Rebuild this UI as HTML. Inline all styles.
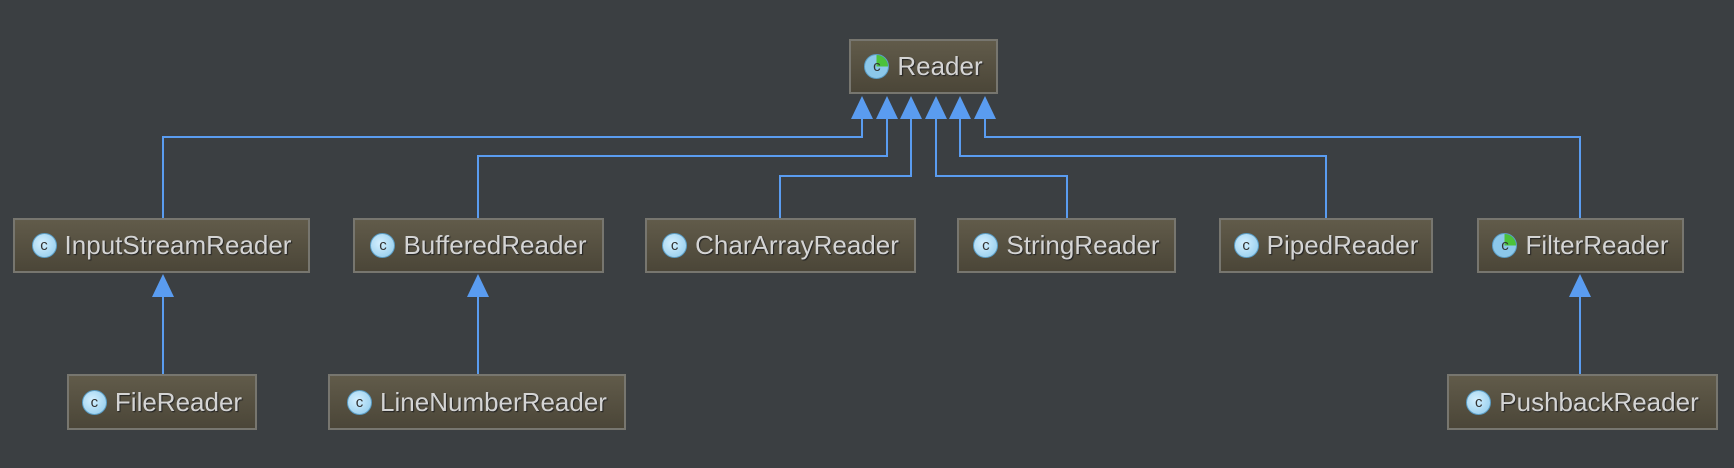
<!DOCTYPE html>
<html><head><style>
html,body{margin:0;padding:0;background:#3b3f42;width:1734px;height:468px;overflow:hidden}
.b{position:absolute;box-sizing:border-box;border:2px solid #77766f;background:linear-gradient(#615b4a,#4b4638);color:#d4d4d4;font-family:"Liberation Sans",sans-serif;font-size:26px;display:flex;align-items:center;justify-content:center;text-shadow:1px 1px 1px #222;white-space:nowrap}
.i{width:25px;height:25px;border-radius:50%;background:radial-gradient(circle at 40% 40%,#d4f0ff,#8cc8ea);border:1px solid #5a9cc4;color:#333;font-size:15px;display:inline-flex;align-items:center;justify-content:center;margin-right:8px;text-shadow:none;box-sizing:border-box;flex:none}
.g{background:conic-gradient(#4cc23a 0 25%,#8cc8ea 25% 100%)}
</style></head><body>
<svg width="1734" height="468" style="position:absolute;left:0;top:0">
<g stroke="#5a9cf0" stroke-width="2" fill="none">
<polyline points="163,218 163,137 862,137 862,118"/>
<polyline points="478,218 478,156 887,156 887,118"/>
<polyline points="780,218 780,176 911,176 911,118"/>
<polyline points="1067,218 1067,176 936,176 936,118"/>
<polyline points="1326,218 1326,156 960,156 960,118"/>
<polyline points="1580,218 1580,137 985,137 985,118"/>
<line x1="163" y1="374" x2="163" y2="296"/>
<line x1="478" y1="374" x2="478" y2="296"/>
<line x1="1580" y1="374" x2="1580" y2="296"/>
</g>
<g fill="#5a9cf0">
<polygon points="862,96 851,119 873,119"/>
<polygon points="887,96 876,119 898,119"/>
<polygon points="911,96 900,119 922,119"/>
<polygon points="936,96 925,119 947,119"/>
<polygon points="960,96 949,119 971,119"/>
<polygon points="985,96 974,119 996,119"/>
<polygon points="163,274 152,297 174,297"/>
<polygon points="478,274 467,297 489,297"/>
<polygon points="1580,274 1569,297 1591,297"/>
</g>
</svg>
<div class="b" style="left:849px;top:39px;width:149px;height:55px"><span class="i g">c</span>Reader</div>
<div class="b" style="left:13px;top:218px;width:297px;height:55px"><span class="i">c</span>InputStreamReader</div>
<div class="b" style="left:353px;top:218px;width:251px;height:55px"><span class="i">c</span>BufferedReader</div>
<div class="b" style="left:645px;top:218px;width:271px;height:55px"><span class="i">c</span>CharArrayReader</div>
<div class="b" style="left:957px;top:218px;width:219px;height:55px"><span class="i">c</span>StringReader</div>
<div class="b" style="left:1219px;top:218px;width:214px;height:55px"><span class="i">c</span>PipedReader</div>
<div class="b" style="left:1477px;top:218px;width:207px;height:55px"><span class="i g">c</span>FilterReader</div>
<div class="b" style="left:67px;top:374px;width:190px;height:56px"><span class="i">c</span>FileReader</div>
<div class="b" style="left:328px;top:374px;width:298px;height:56px"><span class="i">c</span>LineNumberReader</div>
<div class="b" style="left:1447px;top:374px;width:271px;height:56px"><span class="i">c</span>PushbackReader</div>
</body></html>
